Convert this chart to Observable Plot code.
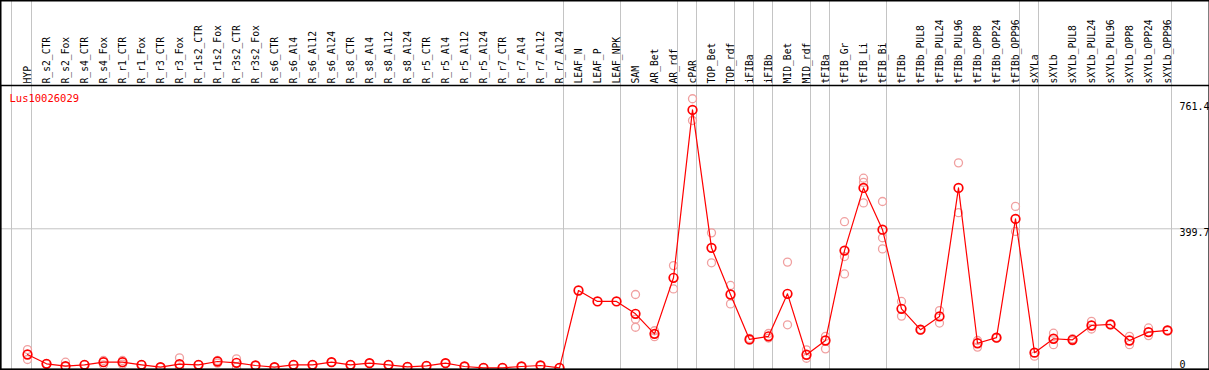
<!DOCTYPE html>
<html>
<head>
<meta charset="utf-8">
<script src="https://cdn.jsdelivr.net/npm/d3@7"></script>
<script src="https://cdn.jsdelivr.net/npm/@observablehq/plot@0.6"></script>
<style>
  html, body { margin: 0; padding: 0; background: white; }
  #chart svg { display: block; }
</style>
</head>
<body>
<div id="chart"></div>
<script>
const title = "Lus10026029";

const categories = [
  "HYP","R_s2_CTR","R_s2_Fox","R_s4_CTR","R_s4_Fox","R_r1_CTR","R_r1_Fox","R_r3_CTR","R_r3_Fox",
  "R_r1s2_CTR","R_r1s2_Fox","R_r3s2_CTR","R_r3s2_Fox","R_s6_CTR","R_s6_Al4","R_s6_Al12","R_s6_Al24",
  "R_s8_CTR","R_s8_Al4","R_s8_Al12","R_s8_Al24","R_r5_CTR","R_r5_Al4","R_r5_Al12","R_r5_Al24",
  "R_r7_CTR","R_r7_Al4","R_r7_Al12","R_r7_Al24","LEAF_N","LEAF_P","LEAF_NPK","SAM","AR_Bet","AR_rdf",
  "cPAR","TOP_Bet","TOP_rdf","iFIBa","iFIBb","MID_Bet","MID_rdf","tFIBa","tFIB_Gr","tFIB_Li","tFIB_Bi",
  "tFIBb","tFIBb_PUL8","tFIBb_PUL24","tFIBb_PUL96","tFIBb_OPP8","tFIBb_OPP24","tFIBb_OPP96",
  "sXYLa","sXYLb","sXYLb_PUL8","sXYLb_PUL24","sXYLb_PUL96","sXYLb_OPP8","sXYLb_OPP24","sXYLb_OPP96"
];

const means = [
  38.8, 12.1, 5.2, 9.2, 16.7, 16.7, 9.2, 2.3, 10.9,
  9.2, 18.7, 14.9, 7.2, 2.3, 9.2, 9.2, 16.7,
  9.2, 13.8, 9.2, 3.4, 6.3, 13.8, 4.3, 0.6,
  0.6, 4.3, 7.2, 0.6, 222.5, 191, 191, 155.6, 98, 259,
  741, 345, 211, 82, 91, 213, 38, 79, 337, 517, 397,
  170, 110, 148, 517, 71, 87, 428,
  44, 84, 81, 122, 125, 79, 103, 108
];

const replicates = [
  [53, 24.4], [12.5, 11.5], [16.7, 4], [9.5, 8.8], [21.5, 9.2], [21.5, 10.9], [9.5, 8.8], [2.5, 2], [29.3, 0.5],
  [9.5, 8.8], [21.5, 13.8], [26.4, 2.3], [7.5, 7], [2.5, 2], [9.5, 8.8], [9.5, 8.8], [17, 16.4],
  [9.5, 8.8], [14, 13.5], [9.5, 8.8], [3.6, 3.2], [6.5, 6], [14, 13.5], [4.5, 4], [0.8, 0.4],
  [0.8, 0.4], [4.5, 4], [7.5, 7], [0.8, 0.4], [], [], [], [211, 140, 117], [107, 90], [294, 227],
  [773, 710.6], [388, 302], [237, 184], [85, 80], [99, 86], [304, 124], [52, 28], [91, 55], [420, 320, 270], [545, 533, 474], [478, 374, 342],
  [191, 149], [111, 109], [165, 129], [589, 446], [79, 60], [88, 86], [464, 392],
  [34], [100, 67], [84, 78], [134, 112], [126, 124], [91, 67], [115, 93], [109, 107]
];

// categories after which a grey separator is drawn
const groupEnds = ["HYP","R_r7_Al24","LEAF_NPK","AR_rdf","cPAR","TOP_rdf","iFIBa","iFIBb","MID_rdf","tFIBa","tFIB_Bi","tFIBb_OPP96","sXYLa","sXYLb_OPP96"];

const yTicks = [0, 399.7, 761.4];
const yTickLabels = ["0", "399.7", "761.4"];
const gridValues = [399.7];

const meanTable = categories.map((c, i) => ({cat: c, value: means[i]}));
const repTable = categories.flatMap((c, i) => replicates[i].map(v => ({cat: c, value: v})));
const tickTable = yTicks.map((v, i) => ({value: v, label: yTickLabels[i]}));

const font = "DejaVu Sans Mono";

const chart = Plot.plot({
  width: 1209,
  height: 370,
  marginTop: 85,
  marginBottom: 1,
  marginLeft: 0,
  marginRight: 0,
  x: {type: "point", domain: categories, range: [26.7, 1166.7], padding: 0, axis: null},
  y: {domain: [0, 761.4], range: [367.5, 102.3], axis: null},
  style: {fontFamily: font, fontSize: "10px", background: "white", overflow: "visible"},
  marks: [
    Plot.ruleY(gridValues, {y: d => d, stroke: "#c4c4c4", strokeWidth: 1}),
    Plot.ruleX(groupEnds, {x: d => d, dx: 4, stroke: "#c4c4c4", strokeWidth: 1, insetTop: -85}),
    Plot.ruleX([categories[0]], {x: d => d, dx: -16, stroke: "#c4c4c4", strokeWidth: 1, insetTop: -85}),
    Plot.dot(repTable, {x: "cat", y: "value", r: 4, stroke: "#f0a0a0", strokeWidth: 1.3, fill: "none"}),
    Plot.line(meanTable, {x: "cat", y: "value", stroke: "#ff0000", strokeWidth: 1.2}),
    Plot.dot(meanTable, {x: "cat", y: "value", r: 4.3, stroke: "#ff0000", strokeWidth: 1.7, fill: "none"}),
    Plot.text(categories, {x: d => d, text: d => d, frameAnchor: "top", dy: -2, rotate: -90,
      textAnchor: "start", lineAnchor: "middle", fill: "black", fontSize: 9.7, fontFamily: font}),
    Plot.text([title], {text: d => d, frameAnchor: "top-left", dx: 9, dy: 13, textAnchor: "start",
      lineAnchor: "middle", fill: "#ff0000", fontSize: 10.5, fontFamily: font}),
    Plot.text(tickTable.filter(d => d.value > 0), {y: "value", text: "label", frameAnchor: "right", dx: -30,
      textAnchor: "start", lineAnchor: "top", fill: "black", fontSize: 10, fontFamily: font}),
    Plot.text(tickTable.filter(d => d.value === 0), {y: "value", text: "label", frameAnchor: "right", dx: -30,
      textAnchor: "start", lineAnchor: "bottom", fill: "black", fontSize: 10, fontFamily: font}),
    Plot.frame({stroke: "black", strokeWidth: 1.5}),
    Plot.frame({stroke: "black", strokeWidth: 2, insetTop: -85})
  ]
});

document.getElementById("chart").appendChild(chart);
</script>
</body>
</html>
